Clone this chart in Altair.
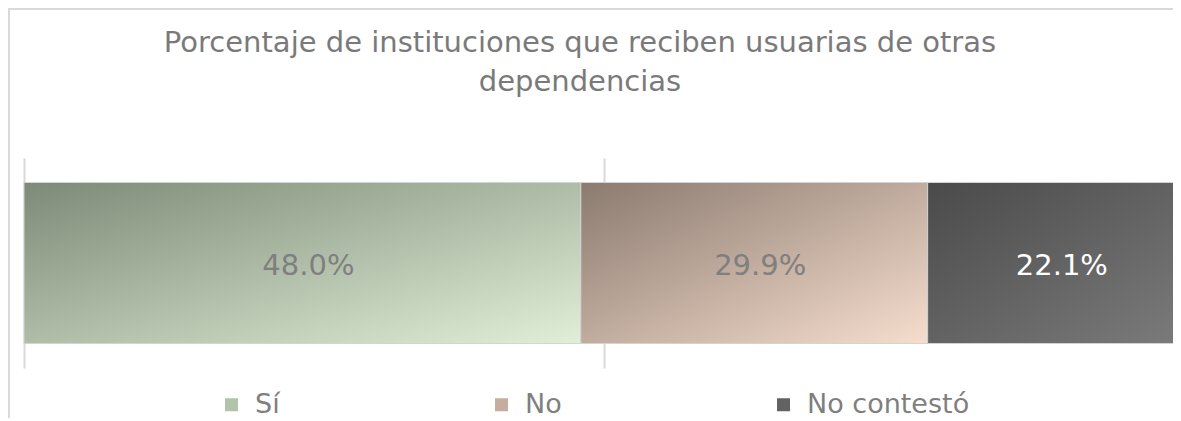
import altair as alt
import pandas as pd

categorias = ["Sí", "No", "No contestó"]
valores = [48.0, 29.9, 22.1]
etiquetas = ["48.0%", "29.9%", "22.1%"]
titulo = ["Porcentaje de instituciones que reciben usuarias de otras", "dependencias"]

colores_leyenda = ["#b3c2aa", "#c6ae9f", "#626262"]
gradientes = {
    "Sí": ("#7d8a77", "#e1efd8"),
    "No": ("#8b7a6f", "#f6dece"),
    "No contestó": ("#4a4a4a", "#7b7b7b"),
}

df = pd.DataFrame({"categoria": categorias, "valor": valores, "etiqueta": etiquetas})
df["grupo"] = "Instituciones"
df["fin"] = df["valor"].cumsum()
df["inicio"] = df["fin"] - df["valor"]
df["medio"] = (df["inicio"] + df["fin"]) / 2

xscale = alt.Scale(domain=[0, 99.05], nice=False, zero=False)
yenc = alt.Y("grupo:N", axis=None, scale=alt.Scale(paddingInner=0, paddingOuter=0.152))

base = alt.Chart(df)

legend_bars = base.mark_bar().encode(
    x=alt.X("inicio:Q", scale=xscale,
            axis=alt.Axis(values=[0, 50], labels=False, ticks=False, domain=False,
                          grid=True, gridColor="#d9d9d9", gridWidth=2, title=None)),
    x2="fin:Q",
    y=yenc,
    color=alt.Color("categoria:N",
                    scale=alt.Scale(domain=categorias, range=colores_leyenda),
                    legend=alt.Legend(title=None, orient="none", legendX=194, legendY=233,
                                      direction="horizontal", columns=3, columnPadding=208,
                                      symbolType="square", symbolSize=169, symbolStrokeWidth=0,
                                      labelFont="DejaVu Sans", labelFontSize=27, labelLimit=400,
                                      labelColor="#7f7f7f", labelOffset=10)),
)

layers = [legend_bars]
for cat in categorias:
    c0, c1 = gradientes[cat]
    grad = alt.Gradient(gradient="linear",
                        stops=[alt.GradientStop(color=c0, offset=0),
                               alt.GradientStop(color=c1, offset=1)],
                        x1=0, y1=0, x2=1, y2=1)
    layers.append(
        base.transform_filter(alt.datum.categoria == cat)
        .mark_bar(color=grad, stroke="#d4d4d4", strokeWidth=1)
        .encode(x=alt.X("inicio:Q", scale=xscale), x2="fin:Q", y=yenc)
    )

labels = base.mark_text(font="DejaVu Sans", fontSize=29, baseline="middle", dx=6, dy=3).encode(
    x=alt.X("medio:Q", scale=xscale),
    y=yenc,
    text="etiqueta:N",
    color=alt.condition(alt.datum.categoria == "No contestó", alt.value("#ffffff"), alt.value("#7f7f7f")),
)
layers.append(labels)

frame_data = pd.DataFrame({"k": [0]})
title_mark = alt.Chart(frame_data).mark_text(
    text=titulo, font="DejaVu Sans", fontSize=29, color="#7a7a7a", lineHeight=39,
    align="center", baseline="alphabetic",
).encode(x=alt.value(556), y=alt.value(-106))
frame_left = alt.Chart(frame_data).mark_rule(color="#d9d9d9", strokeWidth=2).encode(
    x=alt.value(-15), y=alt.value(-149), y2=alt.value(300))
frame_top = alt.Chart(frame_data).mark_rule(color="#d9d9d9", strokeWidth=2).encode(
    x=alt.value(-16), x2=alt.value(1200), y=alt.value(-149))
layers += [title_mark, frame_left, frame_top]

chart = alt.layer(*layers).properties(
    width=1149,
    height=210,
    autosize=alt.AutoSizeParams(type="none"),
    padding={"left": 16, "top": 150, "right": 0, "bottom": 50},
).configure_view(stroke=None)

chart.save("out.html", embed_options={"renderer": "svg", "actions": False})
